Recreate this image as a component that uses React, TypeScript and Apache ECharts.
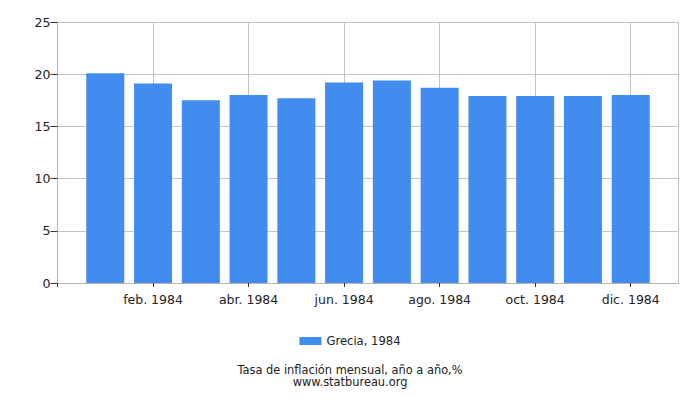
import { useRef, useEffect } from 'react'
import * as echarts from 'echarts'

// padded with blanks at both ends: the reference leaves one empty slot before Jan and after Dec
const MONTHS = [
  '', 'ene. 1984', 'feb. 1984', 'mar. 1984', 'abr. 1984', 'may. 1984', 'jun. 1984',
  'jul. 1984', 'ago. 1984', 'sep. 1984', 'oct. 1984', 'nov. 1984', 'dic. 1984', '',
]
const VALUES = [null, 20.1, 19.1, 17.5, 18.0, 17.7, 19.2, 19.4, 18.7, 17.9, 17.9, 17.9, 18.0, null]
const SERIES_NAME = 'Grecia, 1984'
const TITLE = 'Tasa de inflación mensual, año a año,%'
const SOURCE = 'www.statbureau.org'

const BAR_COLOR = '#428bef'
const FONT = 'DejaVu Sans'

const evenIdx = (i: number) => i % 2 === 0 && i < 13
const gridIdx = (i: number) => (i % 2 === 0 && i > 0) || i === 13

export default function App() {
  const chartRef = useRef<HTMLDivElement>(null)

  useEffect(() => {
    if (!chartRef.current) return
    const chart = echarts.init(chartRef.current, undefined, { renderer: 'svg' })

    const option: echarts.EChartsOption = {
      animation: false,
      textStyle: { fontFamily: FONT },
      grid: { left: 57.5, right: 21.5, top: 22, bottom: 117 },
      legend: {
        data: [SERIES_NAME],
        top: 330,
        left: 'center',
        itemWidth: 22,
        itemHeight: 8,
        itemGap: 4,
        icon: 'rect',
        textStyle: { fontSize: 11.6, color: '#222', fontFamily: FONT },
      },
      graphic: [
        {
          type: 'text',
          x: 350,
          y: 369.5,
          style: {
            text: TITLE,
            fontSize: 11.4,
            align: 'center',
            verticalAlign: 'middle',
            fill: '#222',
            fontFamily: FONT,
          },
        },
        {
          type: 'text',
          x: 350,
          y: 382,
          style: {
            text: SOURCE,
            fontSize: 11.4,
            align: 'center',
            verticalAlign: 'middle',
            fill: '#222',
            fontFamily: FONT,
          },
        },
      ],
      xAxis: {
        type: 'category',
        data: MONTHS,
        boundaryGap: false,
        axisLine: { lineStyle: { color: '#b4b4b4' } },
        axisTick: { interval: evenIdx, length: 4, lineStyle: { color: '#333' } },
        axisLabel: { interval: evenIdx, fontSize: 12.5, color: '#222', margin: 10 },
        splitLine: { show: true, interval: gridIdx, lineStyle: { color: '#c4c4c4' } },
      },
      yAxis: {
        type: 'value',
        min: 0,
        max: 25,
        interval: 5,
        axisLine: { show: true, lineStyle: { color: '#b4b4b4' } },
        axisTick: { show: true, length: 7, lineStyle: { color: '#333' } },
        axisLabel: { fontSize: 12.5, color: '#222', margin: 7 },
        splitLine: { lineStyle: { color: '#c4c4c4' } },
      },
      series: [
        {
          name: SERIES_NAME,
          type: 'bar',
          data: VALUES,
          barWidth: 38,
          itemStyle: { color: BAR_COLOR },
        },
      ],
    }

    chart.setOption(option)
    return () => chart.dispose()
  }, [])

  return (
    <div
      ref={chartRef}
      style={{ position: 'absolute', left: 0, top: 0, width: 700, height: 400 }}
    />
  )
}
